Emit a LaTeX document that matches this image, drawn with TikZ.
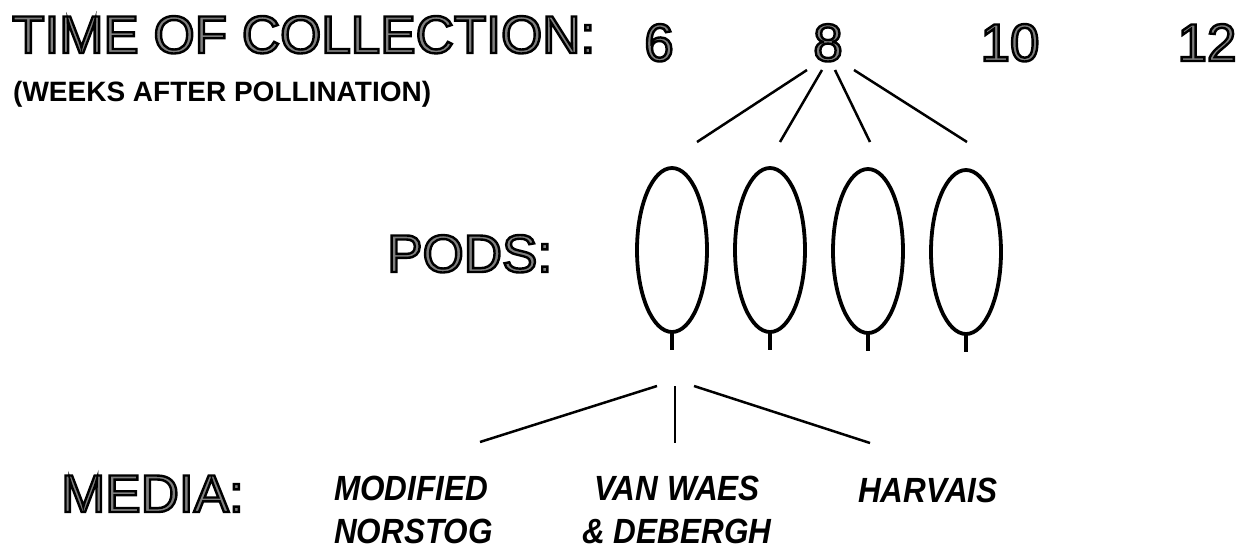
\documentclass[tikz,border=0pt]{standalone}
\usepackage{fontspec}
\setmainfont{Liberation Sans}
\usetikzlibrary{shapes.geometric}

% hollow display lettering: grey fill with a black stroke
\newcommand\hollowtext[1]{{\color{black!50}\special{pdf:literal direct 0 G 2.4 w 2 Tr}#1\special{pdf:literal direct 0 Tr}}}
% narrow bold-italic lettering for the media names
\newcommand\narrowname[1]{\scalebox{0.9}[1]{#1}}

\begin{document}
\begin{tikzpicture}[x=1pt,y=-1pt,
  bigtext/.style={inner sep=0pt, font=\fontsize{53}{60}\selectfont},
  weektext/.style={inner sep=0pt, anchor=base west, font=\fontsize{28}{32}\selectfont\bfseries},
  mediatext/.style={inner sep=0pt, font=\fontsize{35}{40}\selectfont\bfseries\itshape},
  pod/.style={draw, ellipse, line width=3.8pt, minimum width=70pt, minimum height=164pt, inner sep=0pt, outer sep=0pt},
  stem/.style={line width=4pt},
  link/.style={line width=2.5pt}]
\useasboundingbox (0,0) rectangle (1251,549);

% headings
\node[bigtext, anchor=base west] (title) at (12,53) {\hollowtext{TIME OF COLLECTION:}};
\node[weektext] (weeks) at (13,101) {(WEEKS AFTER POLLINATION)};
\node[bigtext, anchor=base west] (pods) at (387,272) {\hollowtext{PODS:}};
\node[bigtext, anchor=base west] (media) at (61,512) {\hollowtext{MEDIA:}};

% collection times
\node[bigtext, anchor=base] (w6)  at (659,61)  {\hollowtext{6}};
\node[bigtext, anchor=base] (w8)  at (828,61)  {\hollowtext{8}};
\node[bigtext, anchor=base] (w10) at (1010,61) {\hollowtext{10}};
\node[bigtext, anchor=base] (w12) at (1207,61) {\hollowtext{12}};

% fan from week 8 down to the pods
\coordinate (a1) at (807,70);  \coordinate (b1) at (697,142);
\coordinate (a2) at (822,70);  \coordinate (b2) at (780,142);
\coordinate (a3) at (835,70);  \coordinate (b3) at (870,142);
\coordinate (a4) at (854,70);  \coordinate (b4) at (967,142);
\draw[link] (a1) -- (b1);
\draw[link] (a2) -- (b2);
\draw[link] (a3) -- (b3);
\draw[link] (a4) -- (b4);

% pods with their stalks
\node[pod] (p1) at (672,250) {};
\node[pod] (p2) at (770,250) {};
\node[pod] (p3) at (868,251) {};
\node[pod] (p4) at (966,252) {};
\foreach \p in {p1,p2,p3,p4}
  \draw[stem] (\p.south) -- ++(0,18);

% fan from the first pod down to the media
\coordinate (c1) at (657,386); \coordinate (d1) at (480,442);
\coordinate (c2) at (675,386); \coordinate (d2) at (675,443);
\coordinate (c3) at (694,386); \coordinate (d3) at (870,443);
\draw[link] (c1) -- (d1);
\draw[link] (c2) -- (d2);
\draw[link] (c3) -- (d3);

% media names
\node[mediatext, anchor=base west] (mod1) at (334,500) {\narrowname{MODIFIED}};
\node[mediatext, anchor=base west] (mod2) at (334,543) {\narrowname{NORSTOG}};
\node[mediatext, anchor=base] (van1) at (677,500) {\narrowname{VAN WAES}};
\node[mediatext, anchor=base] (van2) at (677,543) {\narrowname{\& DEBERGH}};
\node[mediatext, anchor=base west] (har) at (858,502) {\narrowname{HARVAIS}};
\end{tikzpicture}
\end{document}
